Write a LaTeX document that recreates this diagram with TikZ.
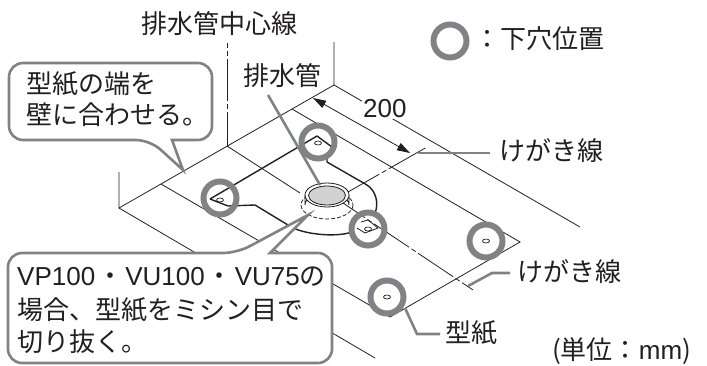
\documentclass[tikz,border=0pt]{standalone}
\usepackage{fontspec}
\setmainfont{Noto Sans CJK JP}
\newfontfamily\lat{Liberation Sans}
\usetikzlibrary{arrows.meta}
\usetikzlibrary{shapes.geometric}
\definecolor{gr}{HTML}{808285}
\definecolor{tx}{HTML}{231F20}
\tikzset{
 thin line/.style={line width=0.8bp,draw=tx},
 cut line/.style={line width=1.4bp,draw=tx,line join=round},
 center line/.style={line width=0.8bp,draw=tx,dash pattern=on 42bp off 3bp on 5bp off 3bp},
 leader/.style={line width=2.6bp,draw=gr},
 callout/.style={line width=2.6bp,draw=gr,fill=white,line join=miter},
 mark ring/.style={circle,draw=gr,line width=6bp,minimum size=33bp,inner sep=0pt},
 hole/.style={ellipse,draw=tx,line width=0.7bp,minimum width=7bp,minimum height=4bp,inner sep=0pt},
 label/.style={font=\fontsize{26bp}{30bp}\selectfont,text=tx,inner sep=0pt},
}
\begin{document}
\begin{tikzpicture}[x=1bp,y=-1bp]
\useasboundingbox (0,0) rectangle (707,365);
% wall and floor
\coordinate (wallL) at (119,208); \coordinate (wallR) at (334,85);
\coordinate (wallLt) at (119,172); \coordinate (wallRt) at (334,42);
\coordinate (floorLe) at (375,358); \coordinate (floorRe) at (580,227);
\coordinate (ct) at (227,43); \coordinate (cw) at (227,146);
\coordinate (pa) at (161,184); \coordinate (pb) at (292,109);
\coordinate (pc) at (520,242); \coordinate (pd) at (390,317);
\draw[thin line] (wallLt)--(wallL)--(wallR)--(wallRt);
\draw[thin line] (wallL)--(floorLe);
\draw[thin line] (wallR)--(floorRe);
\draw[thin line] (pa)--(pd)--(pc)--(pb);
\draw[center line,dash phase=37bp] (ct)--(cw);
\draw[thin line] (cw)--(300,193);
\draw[center line,dash phase=12bp] (340,201)--(473,290);
\draw[center line,dash phase=6bp] (348,192)--(427,147);
% template outline
\draw[cut line] (210,199)--(317,136)--(332,147)--(327,155)--(327,162)--(367,185)
  .. controls (376,191) and (379,203) .. (375,213);
\draw[cut line] (210,199)--(228,206)--(255,205)--(288,225)
  .. controls (300,234) and (335,238) .. (352,232);
\draw[thin line] (361,222)--(368,220)--(378,228)--(365,233)--(357,228);
% dimension
\draw[thin line,{Triangle[length=13bp,width=8bp]}-{Triangle[length=13bp,width=8bp]}] (313,98)--(410,153);
% pipe
\draw[thin line,dash pattern=on 4bp off 2bp] (327,205) ellipse [x radius=26,y radius=14];
\fill[white] (305,195)--(305,205) arc[start angle=180,end angle=360,x radius=22,y radius=12]--(349,195)--cycle;
\draw[thin line,fill=gray!10] (305,195)--(305,205) arc[start angle=180,end angle=360,x radius=22,y radius=12]--(349,195);
\draw[thin line,fill=white] (327,195) ellipse [x radius=22,y radius=12];
\draw[thin line,fill=gray!35] (327,195.5) ellipse [x radius=18.5,y radius=9.5];
% marks
\node[hole] (h1) at (220,200) {}; \node[mark ring] (m1) at (220,198) {};
\node[hole] (h2) at (318,143) {}; \node[mark ring] (m2) at (318,142) {};
\node[hole] (h3) at (368,229) {}; \node[mark ring] (m3) at (368,229) {};
\node[hole] (h4) at (486,241) {}; \node[mark ring] (m4) at (486,241) {};
\node[hole] (h5) at (387,297) {}; \node[mark ring] (m5) at (387,297) {};
\node[mark ring] (legend) at (450,41) {};
% leaders
\coordinate (pipeTop) at (320,185);
\coordinate (lA) at (268,95);
\draw[leader] (lA)--(pipeTop);
\draw[leader] (418,153)--(490,153);
\draw[leader] (468,286)--(492,273)--(510,273);
\draw[leader] (405,308)--(417,334)--(440,334);
% callouts
\draw[callout,rounded corners=14bp] (172,140)--(212,140)--(212,63)--(9,63)--(9,140)--(150,140)[sharp corners]--(183,170)--cycle;
\draw[callout,rounded corners=14bp] (270,253)--(332,253)--(332,363)--(8,363)--(8,253)--(237,253)[sharp corners]--(308,215)--cycle;
% text
\node[label,anchor=west] (t1) at (141,24) {排水管中心線};
\node[label,anchor=west] (t2) at (243,76) {排水管};
\node[label,anchor=west] (t3) at (26,84) {型紙の端を};
\node[label,anchor=west] (t4) at (26,115) {壁に合わせる。};
\node[label,anchor=west,fill=white,inner sep=1bp] (t5) at (362,109) {\lat 200};
\node[label,anchor=west] (t6) at (474,39) {：下穴位置};
\node[label,anchor=west] (t7) at (499,151) {けがき線};
\node[label,anchor=west] (t8) at (517,272) {けがき線};
\node[label,anchor=west] (t9) at (445,333) {型紙};
\node[label,anchor=west] (t10) at (552,351) {(単位：{\lat mm})};
\node[label,anchor=west] (t11) at (17,277) {{\lat VP100}\hspace{2bp}・\hspace{2bp}{\lat VU100}\hspace{2bp}・\hspace{2bp}{\lat VU75}の};
\node[label,anchor=west] (t12) at (17,310) {場合、型紙をミシン目で};
\node[label,anchor=west] (t13) at (17,342) {切り抜く。};
\end{tikzpicture}
\end{document}
